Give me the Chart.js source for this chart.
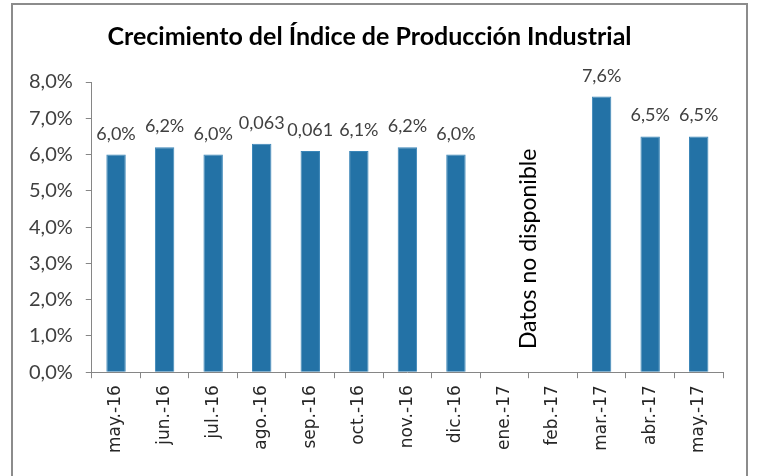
<!DOCTYPE html>
<html>
<head>
<meta charset="utf-8">
<script src="https://cdn.jsdelivr.net/npm/chart.js@4"></script>
<style>
  body { margin: 0; background: #fff; overflow: hidden; }
  #wrap { position: relative; width: 757px; height: 476px; }
  #frame { position: absolute; left: 11px; top: 3px; width: 737px; height: 480px; border: 2px solid #8c8c8c; box-sizing: border-box; }
  canvas { position: absolute; left: 0; top: 0; }
</style>
</head>
<body>
<div id="wrap">
  <div id="frame"></div>
  <canvas id="myChart" width="757" height="476"></canvas>
</div>
<script>
// months shown on the x axis
var categories = ['may.-16', 'jun.-16', 'jul.-16', 'ago.-16', 'sep.-16', 'oct.-16', 'nov.-16',
    'dic.-16', 'ene.-17', 'feb.-17', 'mar.-17', 'abr.-17', 'may.-17'];
// growth in percent, ene/feb have no data
var growth = [6.0, 6.2, 6.0, 6.3, 6.1, 6.1, 6.2, 6.0, null, null, 7.6, 6.5, 6.5];
// labels printed above the bars (as they appear in the original)
var valueLabels = ['6,0%', '6,2%', '6,0%', '0,063', '0,061', '6,1%', '6,2%', '6,0%', '', '',
    '7,6%', '6,5%', '6,5%'];
var yMin = 0, yMax = 8, yStep = 1;
var noDataText = 'Datos no disponible';
var noDataBetween = ['ene.-17', 'feb.-17'];
var noDataLevel = 3.4;

var barLabels = {
    id: 'barLabels',
    afterDatasetsDraw: function(chart) {
        var ctx = chart.ctx;
        var meta = chart.getDatasetMeta(0);
        ctx.save();
        ctx.fillStyle = '#404040';
        ctx.font = '18px Lato';
        ctx.textAlign = 'center';
        ctx.textBaseline = 'alphabetic';
        meta.data.forEach(function(bar, i) {
            if (growth[i] === null) return;
            ctx.fillText(valueLabels[i], bar.x, bar.y - 15);
        });
        // note for the missing months
        var xs = chart.scales.x, ys = chart.scales.y;
        var x = (xs.getPixelForValue(categories.indexOf(noDataBetween[0])) +
                 xs.getPixelForValue(categories.indexOf(noDataBetween[1]))) / 2;
        var y = ys.getPixelForValue(noDataLevel);
        ctx.translate(x, y);
        ctx.rotate(-Math.PI / 2);
        ctx.fillStyle = '#000';
        ctx.font = '23px Lato';
        ctx.textBaseline = 'middle';
        ctx.fillText(noDataText, 0, 0);
        ctx.restore();
    }
};

var ctx = document.getElementById('myChart').getContext('2d');
var myChart = new Chart(ctx, {
    type: 'bar',
    data: {
        labels: categories,
        datasets: [{
            data: growth,
            backgroundColor: '#2372a6',
            borderColor: '#3b86b8',
            borderWidth: 1,
            barPercentage: 0.4,
            categoryPercentage: 1
        }]
    },
    options: {
        responsive: false,
        animation: false,
        layout: { padding: { top: 22, left: 16, right: 34, bottom: 16 } },
        plugins: {
            legend: { display: false },
            tooltip: { enabled: false },
            title: {
                display: true,
                text: 'Crecimiento del Índice de Producción Industrial',
                color: '#000',
                font: { family: 'Lato', size: 25, weight: 'bold' },
                padding: { top: 0, bottom: 30 }
            }
        },
        scales: {
            x: {
                grid: { drawOnChartArea: false, tickLength: 6, color: '#868686', offset: true },
                border: { color: '#868686', width: 1 },
                ticks: {
                    minRotation: 90, maxRotation: 90, autoSkip: false, padding: 7,
                    color: '#262626',
                    font: { family: 'DejaVu Sans', size: 17 }
                }
            },
            y: {
                min: yMin, max: yMax,
                grid: { drawOnChartArea: false, tickLength: 6, color: '#868686' },
                border: { color: '#868686', width: 1 },
                ticks: {
                    stepSize: yStep, padding: 13, color: '#404040',
                    font: { family: 'Lato', size: 20 },
                    callback: function(v) { return v.toFixed(1).replace('.', ',') + '%'; }
                }
            }
        }
    },
    plugins: [barLabels]
});
</script>
</body>
</html>
